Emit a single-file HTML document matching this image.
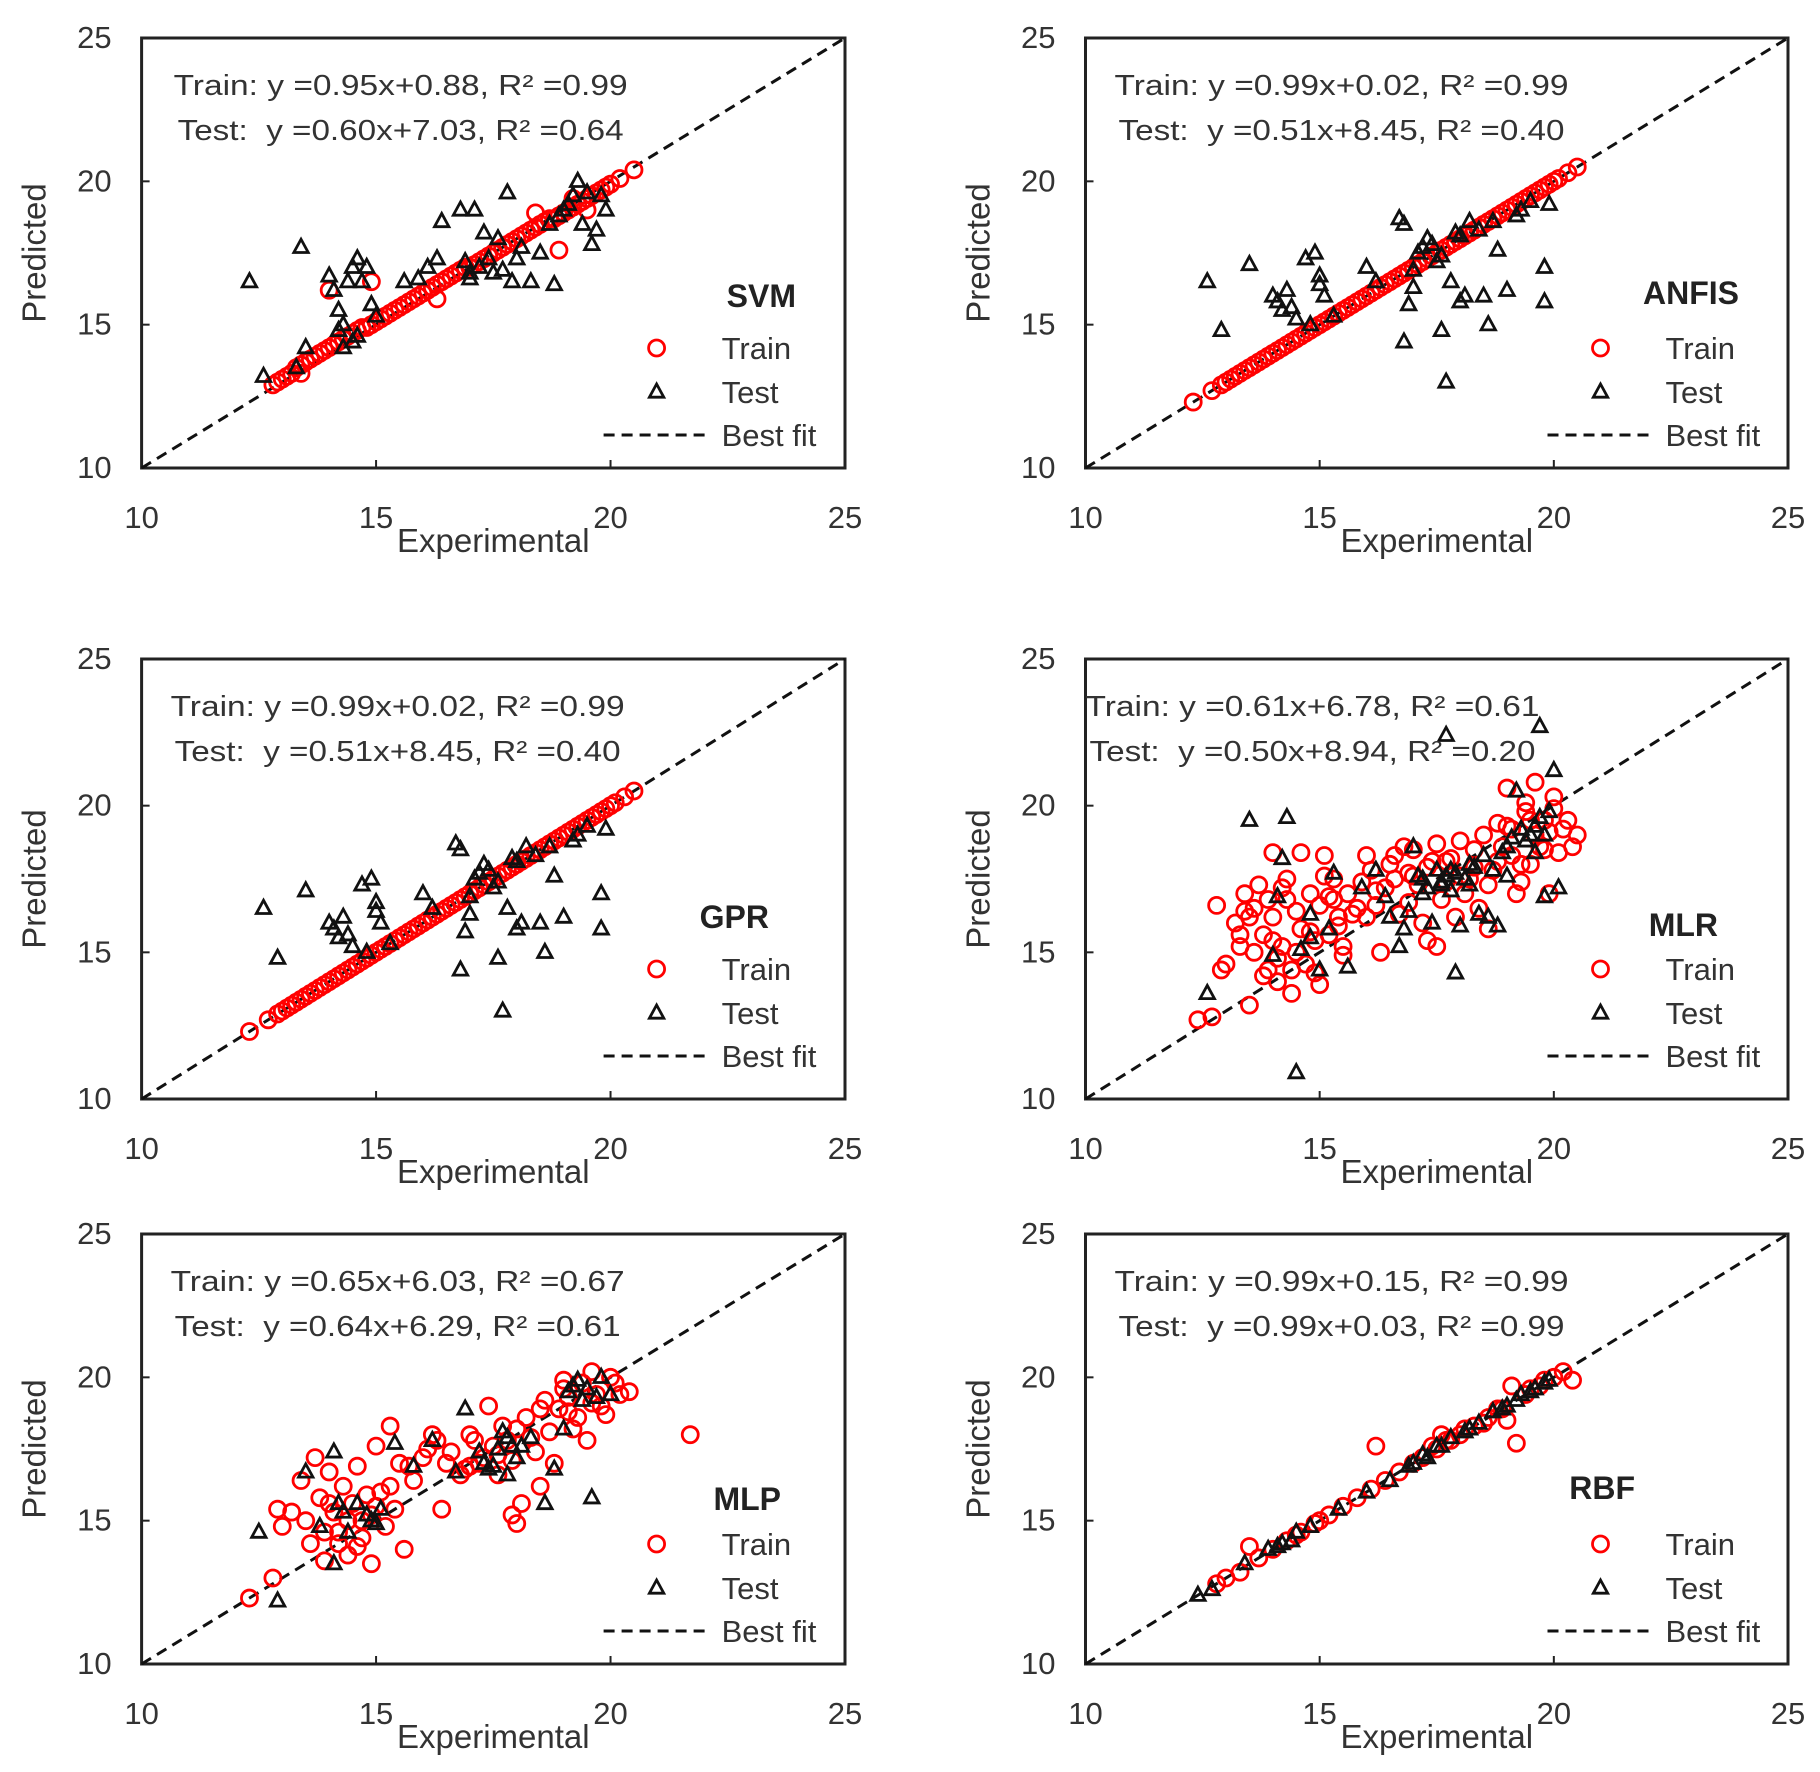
<!DOCTYPE html>
<html><head><meta charset="utf-8">
<style>
html,body{margin:0;padding:0;background:#fff;}
svg{display:block;font-family:"Liberation Sans",sans-serif;}
</style></head>
<body>
<svg id="fig" width="1820" height="1772" viewBox="0 0 1820 1772" xmlns="http://www.w3.org/2000/svg"></svg>
<script>
// ---------- data (x = experimental, y = predicted) ----------
const svmTrainX=[12.8,12.9,13.0,13.1,13.2,13.3,13.4,13.5,13.6,13.7,13.8,13.9,14.0,14.1,14.2,14.3,14.4,14.5,14.6,14.7,14.8,14.9,15.0,15.1,15.2,15.3,15.4,15.5,15.6,15.7,15.8,15.9,16.0,16.1,16.2,16.3,16.4,16.5,16.6,16.7,16.8,16.9,17.0,17.1,17.2,17.3,17.4,17.5,17.6,17.7,17.8,17.9,18.0,18.1,18.2,18.3,18.4,18.5,18.6,18.7,18.8,18.9,19.0,19.1,19.2,19.3,19.4,19.5,19.6,19.7,19.8,19.9,20.0,20.2,20.5,14.0,14.9,16.1,16.3,13.4,18.9,19.2,19.5,18.4];
const svmTrainY=[12.9,13.0,13.1,13.2,13.3,13.5,13.6,13.7,13.8,13.9,14.0,14.1,14.2,14.3,14.4,14.5,14.6,14.7,14.8,14.9,14.9,15.0,15.1,15.2,15.3,15.4,15.5,15.6,15.7,15.8,15.9,16.0,16.1,16.2,16.3,16.4,16.5,16.6,16.7,16.8,16.9,17.0,17.0,17.1,17.2,17.3,17.4,17.5,17.6,17.7,17.8,17.9,18.0,18.1,18.2,18.3,18.4,18.5,18.6,18.7,18.7,18.8,18.9,19.0,19.1,19.2,19.3,19.4,19.5,19.6,19.7,19.8,19.9,20.1,20.4,16.2,16.5,16.2,15.9,13.3,17.6,19.4,19.0,18.9];
const svmTestX=[12.3,12.6,13.4,13.5,13.3,14.0,14.2,14.3,14.4,14.5,14.6,14.7,14.8,14.3,14.5,14.9,15.0,15.6,15.9,16.1,16.3,16.4,16.8,17.1,17.3,17.6,17.8,17.2,17.5,17.9,18.3,18.5,18.8,18.7,19.0,19.2,19.4,19.6,19.7,19.8,19.3,17.0,16.9,18.1,14.1,14.6,14.2,17.4,17.7,18.9,19.1,19.5,19.9,17.0,18.0];
const svmTestY=[16.5,13.2,17.7,14.2,13.5,16.7,15.5,15.0,16.5,17.0,17.3,16.5,17.0,14.2,14.4,15.7,15.3,16.5,16.6,17.0,17.3,18.6,19.0,19.0,18.2,18.0,19.6,17.0,16.8,16.5,16.5,17.5,16.4,18.5,19.0,19.5,18.5,17.8,18.3,19.5,20.0,16.8,17.2,17.7,16.2,14.6,14.8,17.3,16.9,18.8,19.2,19.6,19.0,16.6,17.3];

const anfisTrainX=[12.3,12.7,12.9,13.0,13.1,13.2,13.3,13.4,13.5,13.6,13.7,13.8,13.9,14.0,14.1,14.2,14.3,14.4,14.5,14.6,14.7,14.8,14.9,15.0,15.1,15.2,15.3,15.4,15.5,15.6,15.7,15.8,15.9,16.0,16.1,16.2,16.3,16.4,16.5,16.6,16.7,16.8,16.9,17.0,17.1,17.2,17.3,17.4,17.5,17.6,17.7,17.8,17.9,18.0,18.1,18.2,18.3,18.4,18.5,18.6,18.7,18.8,18.9,19.0,19.1,19.2,19.3,19.4,19.5,19.6,19.7,19.8,19.9,20.0,20.1,20.3,20.5];
const anfisTrainY=[12.3,12.7,12.9,13.0,13.1,13.2,13.3,13.4,13.5,13.6,13.7,13.8,13.9,14.0,14.1,14.2,14.3,14.4,14.5,14.6,14.7,14.8,14.9,15.0,15.1,15.2,15.3,15.4,15.5,15.6,15.7,15.8,15.9,16.0,16.1,16.2,16.3,16.4,16.5,16.6,16.7,16.8,16.9,17.0,17.1,17.2,17.3,17.4,17.5,17.6,17.7,17.8,17.9,18.0,18.1,18.2,18.3,18.4,18.5,18.6,18.7,18.8,18.9,19.0,19.1,19.2,19.3,19.4,19.5,19.6,19.7,19.8,19.9,20.0,20.1,20.3,20.5];
const anfisTestX=[12.6,12.9,13.5,14.0,14.2,14.3,14.5,14.7,14.9,15.0,15.1,15.3,14.8,16.0,16.2,16.7,16.8,16.9,17.0,17.1,17.3,17.5,17.6,17.7,17.8,17.9,18.0,18.1,18.2,18.5,18.6,18.8,19.0,19.2,19.5,19.8,19.8,19.9,17.4,18.4,14.1,14.4,15.0,16.8,17.2,17.6,18.0,18.7,19.3,17.0];
const anfisTestY=[16.5,14.8,17.1,16.0,15.5,16.2,15.2,17.3,17.5,16.7,16.0,15.3,15.0,17.0,16.5,18.7,14.4,15.7,16.3,17.5,18.0,17.2,14.8,13.0,16.5,18.2,15.8,16.0,18.6,16.0,15.0,17.6,16.2,18.8,19.3,17.0,15.8,19.2,17.8,18.3,15.8,15.6,16.4,18.5,17.7,17.4,18.1,18.6,19.0,16.9];

const gprTrainX=anfisTrainX.slice();
const gprTrainY=anfisTrainY.slice();
const gprTestX=anfisTestX.slice();
const gprTestY=anfisTestY.slice();

const mlrTrainX=[12.4,12.7,12.8,12.9,13.0,13.2,13.3,13.4,13.5,13.5,13.6,13.7,13.8,13.9,14.0,14.0,14.1,14.2,14.3,14.4,14.5,14.6,14.7,14.8,14.9,15.0,15.1,15.2,15.3,15.4,15.5,15.6,15.8,16.0,16.1,16.3,16.5,16.7,16.9,17.0,17.2,17.4,17.5,17.7,17.9,18.0,18.2,18.4,18.5,18.7,18.9,19.0,19.1,19.3,19.4,19.5,19.6,19.7,19.8,19.9,20.0,20.1,20.3,20.5,16.0,16.8,17.3,18.6,19.2,15.0,14.4,13.9,
 13.3,13.6,13.8,14.1,14.3,14.6,14.9,15.2,15.4,15.7,15.9,16.2,16.4,16.6,16.9,17.1,17.3,17.6,17.8,18.1,18.3,18.6,18.8,19.0,19.3,19.5,19.8,20.0,20.2,14.2,14.5,15.1,15.5,16.2,17.0,17.7,18.3,19.1,19.6,13.4,14.0,14.8,15.3,16.6,17.5,18.0,18.8,19.4,19.9,20.4];
const mlrTrainY=[12.7,12.8,16.6,14.4,14.6,16.0,15.6,17.0,16.2,13.2,15.0,17.3,14.2,16.8,16.2,18.4,14.0,15.2,17.5,14.4,16.4,18.4,14.6,17.0,15.4,16.6,18.3,15.6,17.5,16.2,15.2,17.0,16.5,16.2,17.8,15.0,18.0,16.3,17.7,18.5,16.0,18.1,15.2,17.4,16.2,18.8,17.5,16.5,19.0,17.8,18.6,20.6,19.2,17.4,19.8,18.0,20.8,18.6,19.5,17.0,19.9,18.4,19.5,19.0,18.3,18.6,15.4,15.8,17.0,13.9,13.6,14.4,
 15.2,16.5,15.6,14.8,16.8,15.8,14.3,16.9,15.9,16.3,17.4,16.6,17.2,17.5,16.7,17.3,17.9,16.8,18.2,17.0,18.5,17.3,18.1,19.3,18.0,19.5,18.5,20.3,19.2,17.2,15.0,17.6,14.9,17.1,17.6,18.1,17.9,18.3,19.0,16.4,15.4,15.7,16.8,18.3,18.7,17.6,19.4,20.1,19.1,18.6];
const mlrTestX=[12.6,13.5,14.3,14.5,14.2,14.0,14.6,14.8,15.0,15.3,15.6,15.9,16.2,16.5,16.8,17.0,17.2,17.4,17.6,17.7,17.8,18.0,18.2,18.4,18.6,18.8,19.0,19.2,19.4,19.6,19.7,19.8,20.0,20.1,17.9,16.7,14.8,19.9,
 17.1,17.3,17.5,17.6,17.8,17.9,18.1,18.3,18.5,18.7,18.9,19.1,19.3,19.5,19.7,19.8,17.2,17.7,18.2,19.0,19.6,16.4,16.9,15.2,14.1];
const mlrTestY=[13.6,19.5,19.6,10.9,18.2,14.9,15.1,16.3,14.4,17.7,14.5,17.2,17.8,16.2,15.8,18.6,17.5,16.0,17.3,22.4,17.8,15.9,18.0,16.3,16.2,15.9,17.6,20.5,18.8,19.3,22.7,16.9,21.2,17.2,14.3,15.2,15.5,19.8,
 17.6,17.2,17.8,17.4,17.1,17.7,17.5,17.9,18.3,17.8,18.4,18.9,19.2,19.0,19.6,19.0,17.0,17.6,17.3,18.6,18.4,16.9,16.4,15.8,16.9];

const mlpTrainX=[12.3,12.8,12.9,13.0,13.2,13.4,13.5,13.6,13.7,13.8,13.9,14.0,14.1,14.2,14.3,14.4,14.5,14.6,14.7,14.8,14.9,15.0,15.1,15.2,15.3,15.4,15.5,15.6,15.8,16.0,16.2,16.4,16.6,16.8,17.0,17.2,17.4,17.6,17.8,18.0,18.1,18.2,18.4,18.6,18.8,19.0,19.2,19.4,19.5,19.6,19.8,20.0,20.2,20.4,21.7,14.9,15.7,17.9,18.5,19.1,
 13.9,14.2,14.4,14.6,15.0,15.3,16.1,16.5,16.9,17.1,17.3,17.5,17.7,17.9,18.3,18.7,18.9,19.1,19.3,19.7,19.9,20.1,14.0,14.7,16.3,17.0,17.6,18.0,18.5,19.0,19.6];
const mlpTrainY=[12.3,13.0,15.4,14.8,15.3,16.4,15.0,14.2,17.2,15.8,13.6,16.7,15.3,14.6,16.2,13.8,15.6,16.9,14.4,15.9,13.5,17.6,16.0,14.8,18.3,15.4,17.0,14.0,16.4,17.2,18.0,15.4,17.4,16.6,18.0,17.0,19.0,16.6,17.8,14.9,15.6,18.6,17.4,19.2,17.0,19.6,18.2,19.8,17.8,20.2,19.0,20.0,19.4,19.5,18.0,15.2,16.9,15.2,16.2,18.8,
 14.6,14.2,15.0,14.1,15.5,16.2,17.5,17.0,16.8,17.8,17.2,17.6,18.3,17.1,17.9,18.1,18.9,19.3,18.6,19.4,18.7,19.8,15.6,15.0,17.8,16.9,17.3,18.2,18.9,19.9,19.1];
const mlpTestX=[12.5,12.9,13.5,13.8,14.1,14.2,14.4,14.6,14.8,15.0,15.4,15.8,16.2,16.7,16.9,17.2,17.5,17.7,17.8,17.9,18.0,18.3,18.6,18.8,19.0,19.2,19.4,19.6,19.8,20.0,14.1,15.1,
 17.3,17.6,17.8,18.1,17.4,19.1,19.3,19.5,19.7,14.3,14.9];
const mlpTestY=[14.6,12.2,16.7,14.8,17.4,15.6,14.6,15.6,15.2,14.9,17.7,16.9,17.8,16.7,18.9,17.4,16.9,18.1,16.6,17.6,17.2,17.9,15.6,16.8,18.2,19.7,19.2,15.8,20.0,19.4,13.5,15.4,
 17.0,17.5,17.9,17.6,16.8,19.5,19.9,19.6,19.3,15.3,15.0];

const rbfTrainX=[12.8,13.0,13.3,13.5,13.7,14.0,14.3,14.6,14.9,15.2,15.5,15.8,16.1,16.2,16.4,16.7,17.0,17.2,17.5,17.8,18.0,18.3,18.6,18.9,19.1,19.2,19.4,19.7,20.0,20.2,20.4,19.0,17.6,17.4,17.7,18.1,18.5,18.8,19.5,19.8,14.5,15.0];
const rbfTrainY=[12.8,13.0,13.2,14.1,13.7,14.0,14.3,14.6,14.9,15.2,15.5,15.8,16.1,17.6,16.4,16.7,17.0,17.2,17.5,17.8,18.0,18.3,18.6,18.9,19.7,17.7,19.4,19.7,20.0,20.2,19.9,18.5,18.0,17.6,17.8,18.2,18.4,18.9,19.6,19.9,14.5,15.0];
const rbfTestX=[12.4,12.7,13.4,13.9,14.2,14.5,14.8,15.4,16.0,16.5,16.9,17.2,17.5,17.8,18.1,18.4,18.7,19.0,19.3,19.6,19.9,17.0,17.3,17.6,18.2,18.9,19.2,19.5,19.8,14.1,14.4];
const rbfTestY=[12.4,12.6,13.5,14.0,14.2,14.6,14.8,15.4,16.0,16.4,16.9,17.3,17.6,17.9,18.1,18.4,18.8,19.0,19.4,19.6,19.9,17.0,17.2,17.6,18.2,18.9,19.2,19.5,19.8,14.1,14.3];

const ticks=[10,15,20,25];

// ---------- layout ----------
const NS="http://www.w3.org/2000/svg";
const svg=document.getElementById('fig');
const panels=[
 {id:'svm',name:'SVM',x0:141.6,x1:845,y0:38,y1:468,eq1:'Train: y =0.95x+0.88, R² =0.99',eq2:'Test:  y =0.60x+7.03, R² =0.64',eqx:32,lblEnd:49,lblY:269,tx:svmTrainX,ty:svmTrainY,sx:svmTestX,sy:svmTestY},
 {id:'anfis',name:'ANFIS',x0:1085.5,x1:1788,y0:38,y1:468,eq1:'Train: y =0.99x+0.02, R² =0.99',eq2:'Test:  y =0.51x+8.45, R² =0.40',eqx:29,lblEnd:49,lblY:266,tx:anfisTrainX,ty:anfisTrainY,sx:anfisTestX,sy:anfisTestY},
 {id:'gpr',name:'GPR',x0:141.6,x1:845,y0:659,y1:1099,eq1:'Train: y =0.99x+0.02, R² =0.99',eq2:'Test:  y =0.51x+8.45, R² =0.40',eqx:29,lblEnd:76,lblY:269,tx:gprTrainX,ty:gprTrainY,sx:gprTestX,sy:gprTestY},
 {id:'mlr',name:'MLR',x0:1085.5,x1:1788,y0:659,y1:1099,eq1:'Train: y =0.61x+6.78, R² =0.61',eq2:'Test:  y =0.50x+8.94, R² =0.20',eqx:0,lblEnd:70,lblY:277,tx:mlrTrainX,ty:mlrTrainY,sx:mlrTestX,sy:mlrTestY},
 {id:'mlp',name:'MLP',x0:141.6,x1:845,y0:1234,y1:1664,eq1:'Train: y =0.65x+6.03, R² =0.67',eq2:'Test:  y =0.64x+6.29, R² =0.61',eqx:29,lblEnd:64,lblY:276,tx:mlpTrainX,ty:mlpTrainY,sx:mlpTestX,sy:mlpTestY},
 {id:'rbf',name:'RBF',x0:1085.5,x1:1788,y0:1234,y1:1664,eq1:'Train: y =0.99x+0.15, R² =0.99',eq2:'Test:  y =0.99x+0.03, R² =0.99',eqx:29,lblEnd:153,lblY:265,tx:rbfTrainX,ty:rbfTrainY,sx:rbfTestX,sy:rbfTestY}
];

function mk(tag,attrs,parent,text){
  const e=document.createElementNS(NS,tag);
  for(const k in attrs) e.setAttribute(k,attrs[k]);
  if(text!==undefined) e.textContent=text;
  parent.appendChild(e);
  return e;
}
function tri(cx,cy,s){return `${cx},${cy-s} ${cx-s*0.9},${cy+s*0.65} ${cx+s*0.9},${cy+s*0.65}`;}

panels.forEach(p=>{
  const g=mk('g',{},svg);
  
  
  const X=v=>p.x0+(v-10)/15*(p.x1-p.x0);
  const Y=v=>p.y1-(v-10)/15*(p.y1-p.y0);
  const fr=mk('rect',{x:p.x0,y:p.y0,width:p.x1-p.x0,height:p.y1-p.y0,fill:'none',stroke:'#222','stroke-width':3},g);
  
  
  ticks.forEach(t=>{
    mk('line',{x1:X(t),x2:X(t),y1:p.y1,y2:p.y1-8,stroke:'#222','stroke-width':2},g);
    mk('line',{x1:p.x0,x2:p.x0+8,y1:Y(t),y2:Y(t),stroke:'#222','stroke-width':2},g);
    const xl=mk('text',{x:X(t),y:p.y1+60,'font-size':31,'text-anchor':'middle',fill:'#333'},g,String(t));
    
    
    const yl=mk('text',{x:p.x0-30,y:Y(t)+10,'font-size':31,'text-anchor':'end',fill:'#333'},g,String(t));
    
    
  });
  const xt=mk('text',{x:(p.x0+p.x1)/2,y:p.y1+84,'font-size':33,'text-anchor':'middle',fill:'#333'},g,'Experimental');
  
  
  const cy=(p.y0+p.y1)/2, cx=p.x0-96;
  const yt=mk('text',{x:cx,y:cy,'font-size':33,'text-anchor':'middle',fill:'#333',transform:`rotate(-90 ${cx} ${cy})`},g,'Predicted');
  
  
  const bf=mk('line',{x1:X(10),y1:Y(10),x2:X(25),y2:Y(25),stroke:'#111','stroke-width':3,'stroke-dasharray':'11 7'},g);
  
  
  p.tx.forEach((v,i)=>{
    const c=mk('circle',{cx:X(v),cy:Y(p.ty[i]),r:8,fill:'none',stroke:'#f00','stroke-width':2.8},g);
    
    
  });
  p.sx.forEach((v,i)=>{
    const t=mk('polygon',{points:tri(X(v),Y(p.sy[i]),8),fill:'none',stroke:'#111','stroke-width':2.8},g);
    
    
  });
  const e1=mk('text',{x:p.x0+p.eqx,y:p.y0+57,'font-size':29,fill:'#333',textLength:454,lengthAdjust:'spacingAndGlyphs'},g,p.eq1);
  
  
  const e2=mk('text',{x:p.x0+p.eqx+4,y:p.y0+102,'font-size':29,fill:'#333',textLength:446,lengthAdjust:'spacingAndGlyphs',style:'white-space:pre'},g,p.eq2);
  
  
  const ml=mk('text',{x:p.x1-p.lblEnd,y:p.y0+p.lblY,'font-size':32,'font-weight':'bold','text-anchor':'end',fill:'#222'},g,p.name);
  
  
  const lx=p.x0+515, tx=p.x0+580;
  const l1=mk('circle',{cx:lx,cy:p.y0+310,r:8,fill:'none',stroke:'#f00','stroke-width':2.8},g);
  
  
  const lt1=mk('text',{x:tx,y:p.y0+321,'font-size':31,fill:'#333'},g,'Train');
  
  
  const l2=mk('polygon',{points:tri(lx,p.y0+354,8),fill:'none',stroke:'#111','stroke-width':2.8},g);
  
  
  const lt2=mk('text',{x:tx,y:p.y0+365,'font-size':31,fill:'#333'},g,'Test');
  
  
  const l3=mk('line',{x1:p.x0+462,x2:p.x0+567,y1:p.y0+397,y2:p.y0+397,stroke:'#111','stroke-width':3,'stroke-dasharray':'11 7'},g);
  
  
  const lt3=mk('text',{x:tx,y:p.y0+408,'font-size':31,fill:'#333'},g,'Best fit');
  
  
});
</script>
</body></html>
